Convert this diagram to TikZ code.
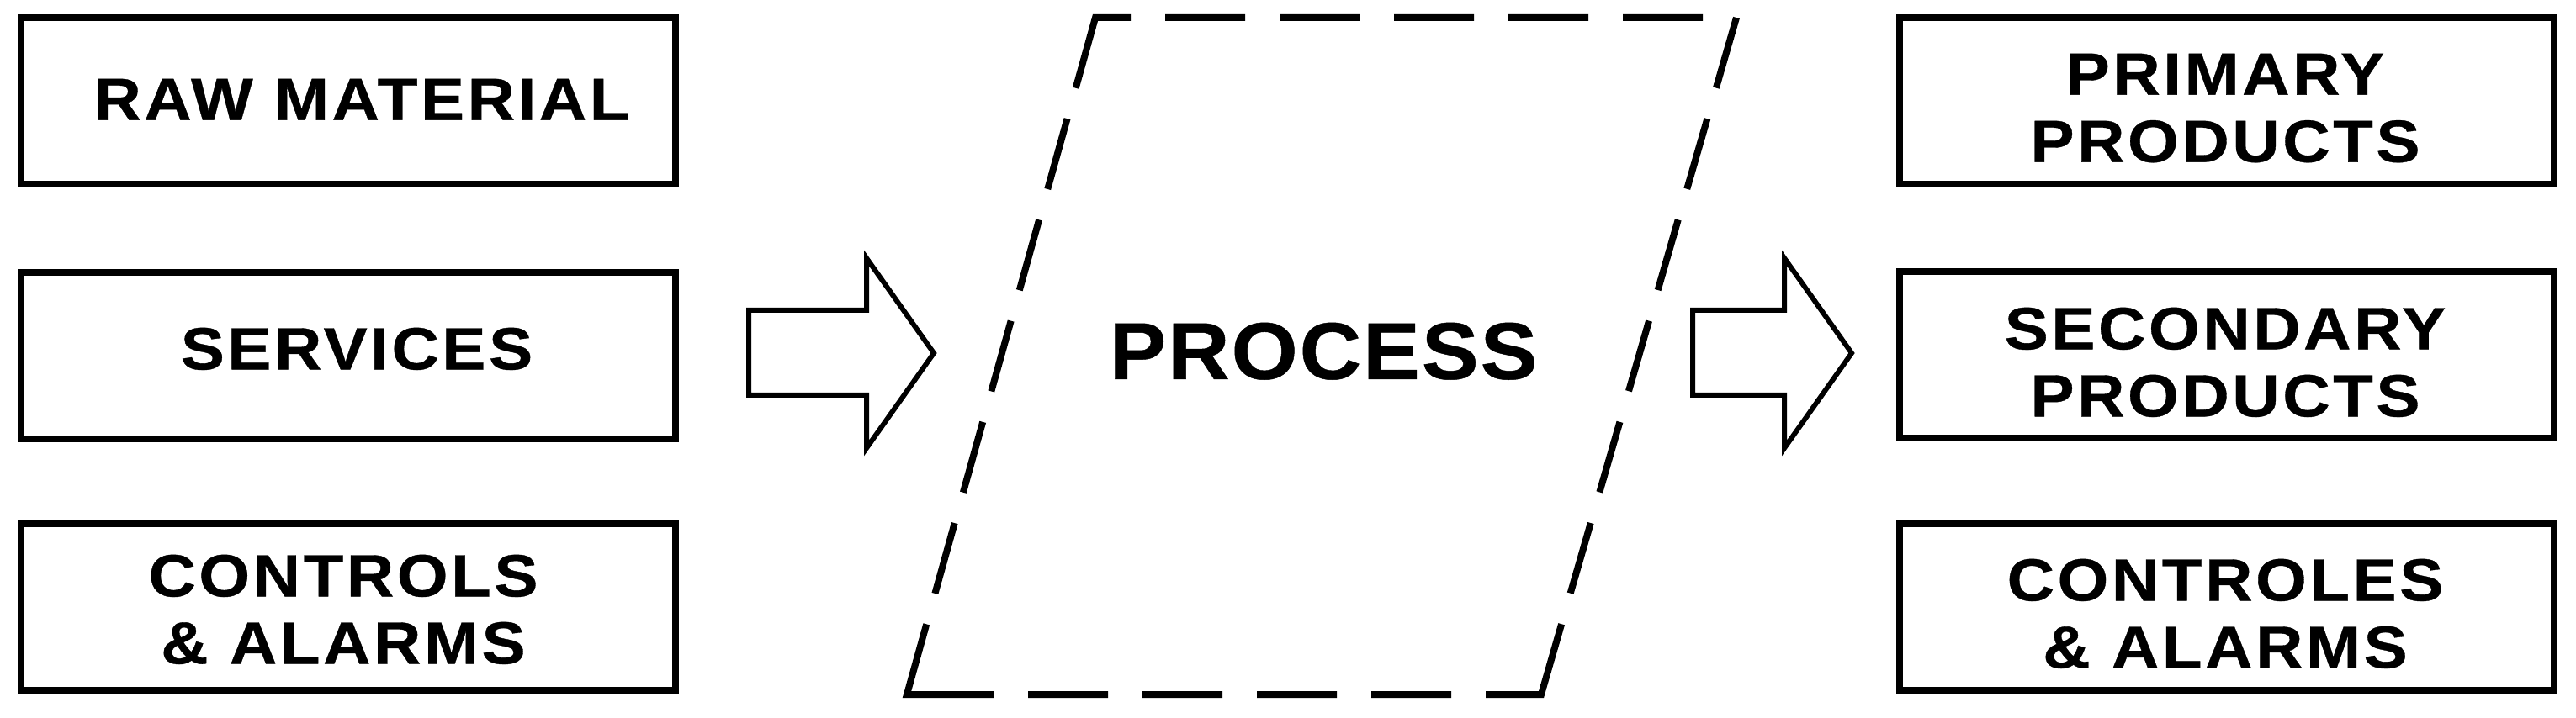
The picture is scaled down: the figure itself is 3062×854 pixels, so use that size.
\documentclass[tikz,border=0pt]{standalone}
\usepackage{fontspec}
\setmainfont{Liberation Sans}
\newfontfamily\boxfont{Liberation Sans}[FakeStretch=1.1, LetterSpace=5, FakeBold=0.5]
\newfontfamily\procfont{Liberation Sans}[FakeStretch=1.06, LetterSpace=2, FakeBold=0.5]
\begin{document}
\begin{tikzpicture}[x=0.25pt,y=-0.25pt,
  box/.style={draw=black, line width=2pt, minimum width=194.5pt, minimum height=49.5pt, inner sep=0pt},
  boxtext/.style={anchor=north, inner sep=0pt, align=center,
    font=\boxfont\bfseries\fontsize{17.75pt}{20pt}\selectfont},
  blockarrow/.style={draw=black, fill=white, line width=1.5pt, miter limit=10},
  proc/.style={draw=black, line width=2pt, miter limit=10,
    dash pattern=on 23.75pt off 10.25pt on 23.75pt off 10.25pt on 23.75pt off 10.25pt
      on 23.75pt off 10.25pt on 23.75pt off 10pt
      on 21.75pt off 9.525pt on 21.75pt off 9.525pt on 21.75pt off 9.525pt
      on 21.75pt off 9.525pt on 21.75pt off 9.525pt on 21.75pt off 9.525pt
      on 38.25pt off 10.25pt on 23.75pt off 10.25pt on 23.75pt off 10.25pt
      on 23.75pt off 10.25pt on 23.75pt off 10.25pt
      on 47.5pt off 9.45pt on 21.75pt off 9.45pt on 21.75pt off 9.45pt
      on 21.75pt off 9.45pt on 21.75pt off 9.45pt on 21.75pt off 9.45pt
      on 32.25pt off 10.25pt}]
\useasboundingbox (0,0) rectangle (3062,854);
\fill[white] (0,0) rectangle (3062,854);
% left boxes
\node[box] (raw) at (414,120.5) {};
\node[box] (serv) at (414,423) {};
\node[box] (ctrlL) at (414,721.5) {};
\node[boxtext] (rawT) at (430,93) {RAW MATERIAL};
\node[boxtext] (servT) at (424,389) {SERVICES};
\node[boxtext] (ctrlLT) at (408,659) {CONTROLS\\\& ALARMS};
% right boxes
\node[box] (prim) at (2647,120.5) {};
\node[box] (sec) at (2647,422) {};
\node[box] (ctrlR) at (2647,721.5) {};
\node[boxtext] (primT) at (2645,63) {PRIMARY\\PRODUCTS};
\node[boxtext] (secT) at (2645,365) {SECONDARY\\PRODUCTS};
\node[boxtext] (ctrlRT) at (2645,664) {CONTROLES\\\& ALARMS};
% process parallelogram
\coordinate (pTL) at (1302,21);
\coordinate (pTR) at (2064,21);
\coordinate (pBR) at (1832,826);
\coordinate (pBL) at (1078,826);
\coordinate (pStart) at (1385,21);
\draw[proc] (pStart) -- (pTR) -- (pBR) -- (pBL) -- (pTL) -- cycle;
\node[anchor=north, font=\procfont\bfseries\fontsize{24pt}{28pt}\selectfont, inner sep=0pt] (process) at (1573,383) {PROCESS};
% block arrows
\draw[blockarrow] (890,369) -- (1030,369) -- (1030,307) -- (1110,420) -- (1030,533) -- (1030,470) -- (890,470) -- cycle;
\draw[blockarrow] (2012,369) -- (2121,369) -- (2121,307) -- (2201,420) -- (2121,533) -- (2121,470) -- (2012,470) -- cycle;
\end{tikzpicture}
\end{document}
